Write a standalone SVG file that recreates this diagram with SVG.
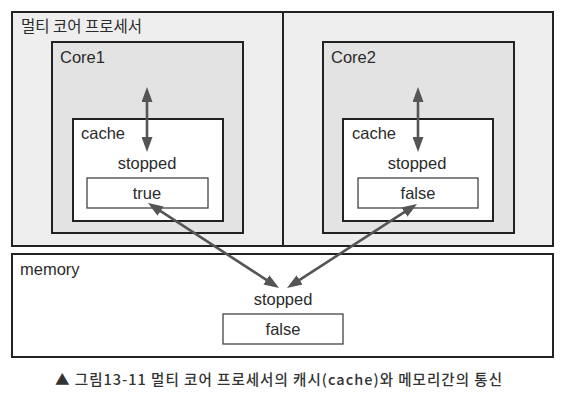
<svg xmlns="http://www.w3.org/2000/svg" width="566" height="401" viewBox="0 0 566 401">
<defs>
<style>
.lbl{font-family:"Liberation Sans","Noto Sans CJK KR",sans-serif;font-size:16.5px;fill:#2b2b2b}
.ctr{text-anchor:middle}
.kr{font-family:"Noto Sans CJK KR","Noto Sans",sans-serif;font-size:15.5px;fill:#2b2b2b}
.cap{font-family:"Noto Sans CJK KR","Noto Sans",sans-serif;font-size:14.5px;font-weight:500;fill:#333}
.proc{fill:#eeeeee;stroke:#222;stroke-width:2}
.core{fill:#e3e3e3;stroke:#222;stroke-width:2}
.cache{fill:#fff;stroke:#222;stroke-width:2}
.val{fill:#fff;stroke:#444;stroke-width:1.3}
.mem{fill:#fff;stroke:#222;stroke-width:2}
.arr{stroke:#555;stroke-width:2.6;fill:none;marker-start:url(#ah);marker-end:url(#ah)}
</style>
<marker id="ah" markerUnits="userSpaceOnUse" markerWidth="15" markerHeight="11" refX="5" refY="5.5" orient="auto-start-reverse">
<path d="M0,0 L15,5.5 L0,11 z" fill="#555"/>
</marker>
</defs>
<rect width="566" height="401" fill="#fff"/>
<g id="processor">
<rect class="proc" x="12" y="12" width="541" height="234"/>
<line x1="283" y1="12" x2="283" y2="246" stroke="#222" stroke-width="2"/>
<text class="kr" x="21" y="32">멀티 코어 프로세서</text>
</g>
<g id="core1">
<rect class="core" x="52" y="42" width="191" height="191"/>
<text class="lbl" x="60" y="63">Core1</text>
</g>
<g id="cache1">
<rect class="cache" x="73" y="119" width="150" height="102"/>
<text class="lbl" x="81" y="139">cache</text>
<text class="lbl ctr" x="147" y="169">stopped</text>
</g>
<g id="value1">
<rect class="val" x="87" y="178" width="121" height="30"/>
<text class="lbl ctr" x="147" y="199">true</text>
</g>
<g id="core2">
<rect class="core" x="323" y="42" width="191" height="191"/>
<text class="lbl" x="331" y="63">Core2</text>
</g>
<g id="cache2">
<rect class="cache" x="343" y="119" width="150" height="102"/>
<text class="lbl" x="352" y="139">cache</text>
<text class="lbl ctr" x="417" y="169">stopped</text>
</g>
<g id="value2">
<rect class="val" x="358" y="178" width="120" height="30"/>
<text class="lbl ctr" x="418" y="199">false</text>
</g>
<g id="memory">
<rect class="mem" x="12" y="254" width="541" height="103"/>
<text class="lbl" x="20" y="275">memory</text>
<text class="lbl ctr" x="283" y="305">stopped</text>
</g>
<g id="memvalue">
<rect class="val" x="223" y="314" width="120" height="30"/>
<text class="lbl ctr" x="283" y="335">false</text>
</g>
<g id="connectors">
<line class="arr" x1="147" y1="97" x2="147" y2="142"/>
<line class="arr" x1="418" y1="97" x2="418" y2="142"/>
<line class="arr" x1="156.4" y1="208.4" x2="270.6" y2="282.6"/>
<line class="arr" x1="408.6" y1="209.4" x2="295.4" y2="282.6"/>
</g>
<g id="caption">
<text class="cap" x="55" y="385" textLength="447" lengthAdjust="spacing">▲ 그림13-11  멀티 코어 프로세서의 캐시(cache)와 메모리간의 통신</text>
</g>
</svg>
